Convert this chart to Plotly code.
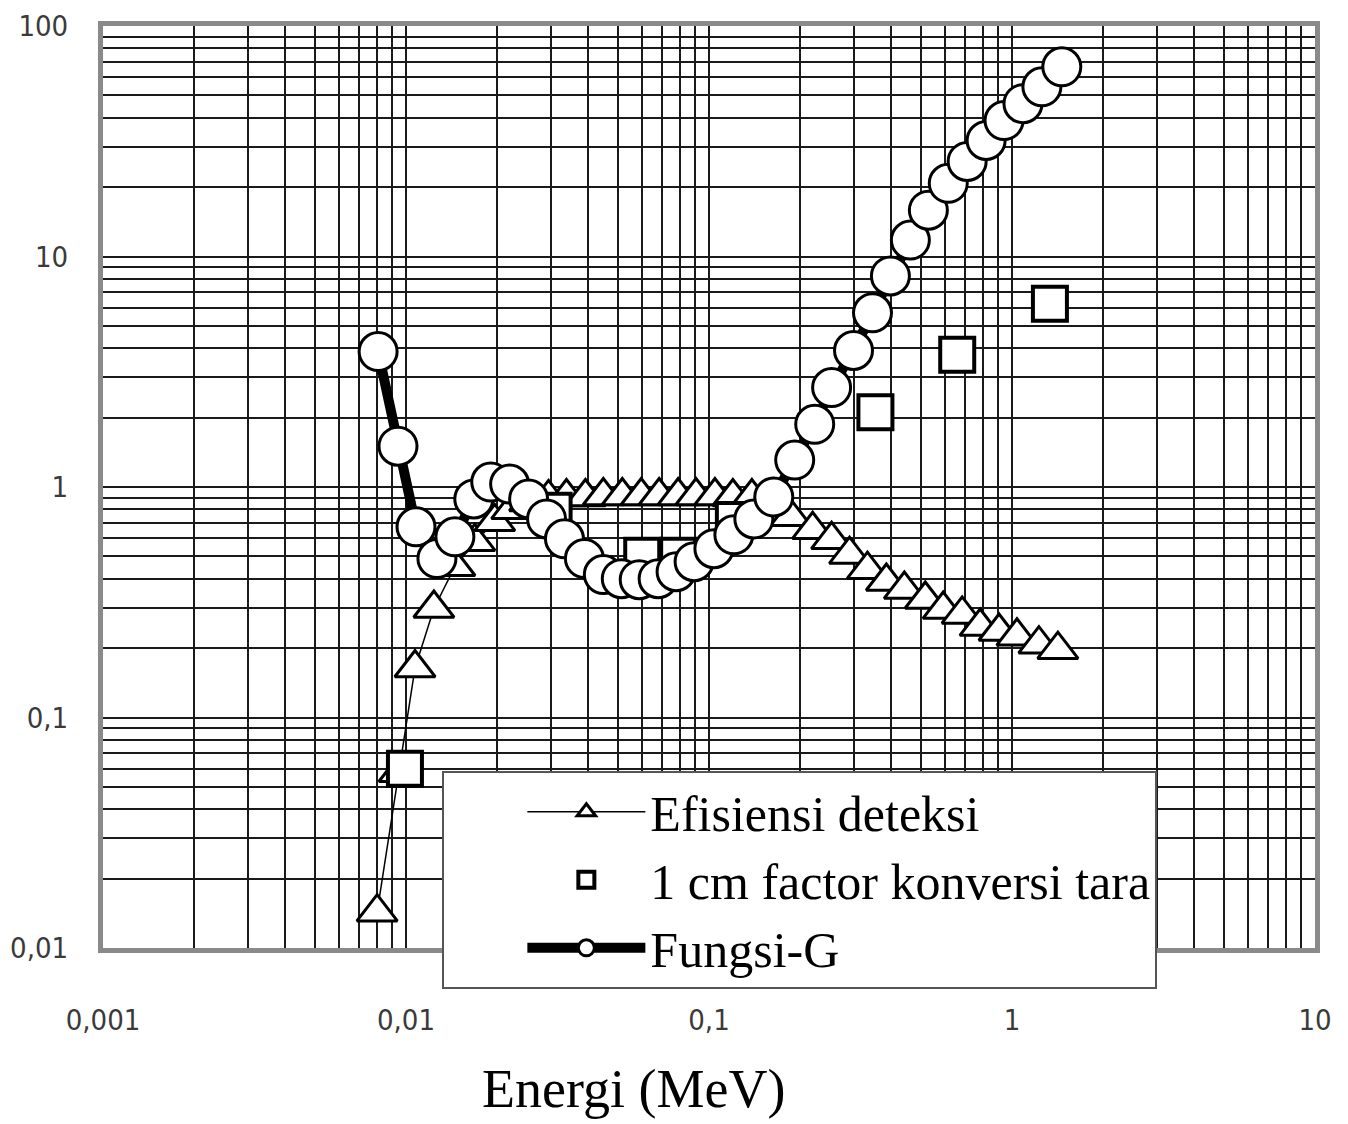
import plotly.graph_objects as go

# ---------------- data ----------------
eff_energy = [0.00803, 0.00949, 0.01071, 0.01236, 0.01450, 0.01687, 0.01963, 0.02233,
              0.02557, 0.02954, 0.03385, 0.03910, 0.04480, 0.05174, 0.05975, 0.06847,
              0.0791, 0.0906, 0.1046, 0.1199, 0.1385, 0.1600, 0.1861, 0.2198, 0.2539,
              0.2910, 0.3334, 0.3850, 0.4413, 0.5174, 0.5929, 0.6847, 0.7848, 0.9062,
              1.0385, 1.227, 1.417]
eff_value = [0.0143, 0.0576, 0.164, 0.297, 0.451, 0.579, 0.706, 0.796,
             0.861, 0.897, 0.905, 0.905, 0.914, 0.914, 0.914, 0.914,
             0.914, 0.914, 0.914, 0.905, 0.905, 0.870, 0.742, 0.652, 0.590,
             0.509, 0.438, 0.389, 0.359, 0.325, 0.294, 0.280, 0.248, 0.236,
             0.225, 0.208, 0.197]

conv_energy = [0.00992, 0.0307, 0.0602, 0.0791, 0.1208, 0.3542, 0.6595, 1.334]
conv_value = [0.0599, 0.788, 0.503, 0.503, 0.720, 2.109, 3.75, 6.23]

g_energy = [0.00809, 0.00941, 0.01079, 0.01265, 0.01450, 0.01674, 0.01904, 0.02198,
            0.02539, 0.02910, 0.03334, 0.03880, 0.04480, 0.05135, 0.05884, 0.06795,
            0.07787, 0.0893, 0.1038, 0.1208, 0.1406, 0.1636, 0.1918, 0.2233, 0.2539,
            0.2999, 0.3464, 0.3969, 0.4619, 0.5296, 0.6161, 0.7112, 0.8214, 0.9413,
            1.087, 1.255, 1.460]
g_value = [3.87, 1.503, 0.672, 0.489, 0.608, 0.888, 1.051, 1.030,
           0.888, 0.727, 0.596, 0.489, 0.417, 0.400, 0.396, 0.400,
           0.429, 0.474, 0.540, 0.620, 0.727, 0.905, 1.308, 1.871, 2.70,
           3.91, 5.70, 8.24, 11.79, 15.88, 20.78, 25.85, 31.86, 38.88,
           46.04, 54.5, 66.5]

x_tick_vals = [0.001, 0.01, 0.1, 1, 10]
x_tick_text = ["0,001", "0,01", "0,1", "1", "10"]
y_tick_vals = [0.01, 0.1, 1, 10, 100]
y_tick_text = ["0,01", "0,1", "1", "10", "100"]

series_names = ["Efisiensi deteksi", "1 cm factor konversi tara", "Fungsi-G"]
x_title = "Energi (MeV)"

# minor grid positions (2..9 within each decade)
x_minor = [d * m for d in x_tick_vals[:-1] for m in range(2, 10)]
y_minor = [d * m for d in y_tick_vals[:-1] for m in range(2, 10)]

# ---------------- figure ----------------
fig = go.Figure()

fig.add_trace(go.Scatter(
    x=eff_energy, y=eff_value, name=series_names[0], mode="lines+markers",
    line=dict(color="black", width=1.5),
    marker=dict(symbol="triangle-up", size=35, color="white",
                line=dict(color="black", width=3)),
))
fig.add_trace(go.Scatter(
    x=conv_energy, y=conv_value, name=series_names[1], mode="markers",
    marker=dict(symbol="square", size=34, color="white",
                line=dict(color="black", width=4)),
))
fig.add_trace(go.Scatter(
    x=g_energy, y=g_value, name=series_names[2], mode="lines+markers",
    line=dict(color="black", width=10),
    marker=dict(symbol="circle", size=38, color="white",
                line=dict(color="black", width=3)),
))

grid_color = "#1a1a1a"
frame_color = "#8a8a8a"
tick_font = dict(family="DejaVu Sans Condensed, Liberation Sans Narrow, Liberation Sans, Arial",
                 size=29, color="#3a3a3a")

fig.update_xaxes(
    type="log", range=[-3, 1], automargin=False,
    tickmode="array", tickvals=x_tick_vals, ticktext=x_tick_text,
    ticks="", tickfont=tick_font, ticklabelstandoff=42, ticklabeloverflow="allow",
    showgrid=True, gridcolor=grid_color, gridwidth=2,
    minor=dict(tickmode="array", tickvals=x_minor, showgrid=True,
               gridcolor=grid_color, gridwidth=2, ticks=""),
    showline=True, linecolor=frame_color, linewidth=5, mirror=True,
    zeroline=False,
)
fig.update_yaxes(
    type="log", range=[-2, 2], automargin=False,
    tickmode="array", tickvals=y_tick_vals, ticktext=y_tick_text,
    ticks="", tickfont=tick_font, ticklabelstandoff=24, ticklabeloverflow="allow",
    showgrid=True, gridcolor=grid_color, gridwidth=2,
    minor=dict(tickmode="array", tickvals=y_minor, showgrid=True,
               gridcolor=grid_color, gridwidth=2, ticks=""),
    showline=True, linecolor=frame_color, linewidth=5, mirror=True,
    zeroline=False,
)

fig.add_annotation(
    text=x_title, xref="paper", yref="paper", x=0.438, y=-0.188,
    xanchor="center", yanchor="bottom", showarrow=False,
    font=dict(family="Liberation Serif, Times New Roman, serif", size=54, color="black"),
)

fig.update_layout(
    width=1348, height=1124,
    margin=dict(l=95, r=41, t=18, b=184, autoexpand=False),
    paper_bgcolor="white", plot_bgcolor="white",
    showlegend=True,
    legend=dict(
        x=0.280, y=0.1922, xanchor="left", yanchor="top",
        bgcolor="white", bordercolor="#555555", borderwidth=2,
        font=dict(family="Liberation Serif, Times New Roman, serif", size=50, color="black"),
        itemwidth=118, indentation=78, itemsizing="trace",
        traceorder="normal",
    ),
)

fig.write_html("out.html")
